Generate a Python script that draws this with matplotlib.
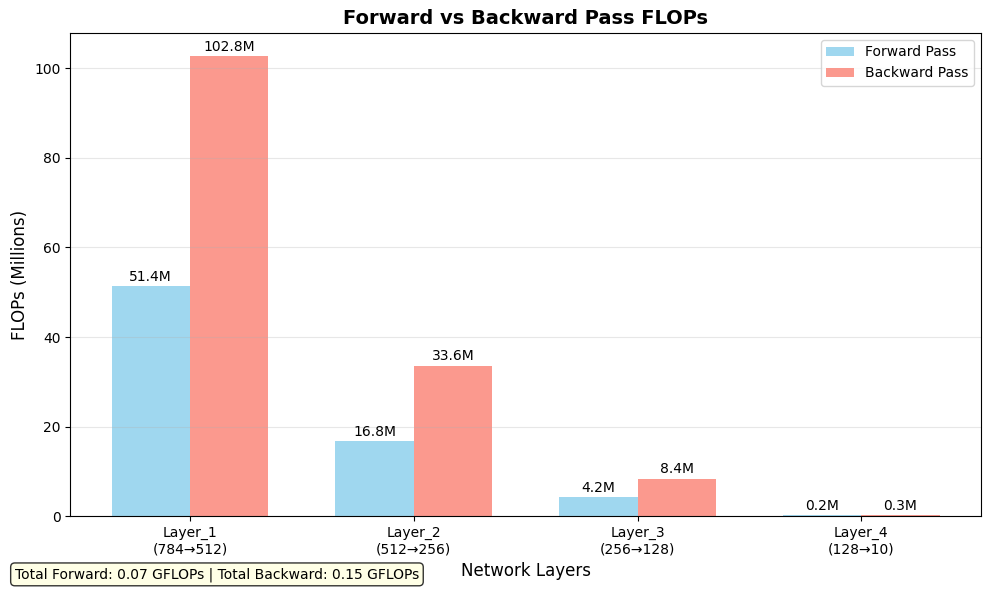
import matplotlib
matplotlib.use("Agg")
import matplotlib.pyplot as plt
import numpy as np

layers = ["Layer_1\n(784→512)", "Layer_2\n(512→256)", "Layer_3\n(256→128)", "Layer_4\n(128→10)"]
forward = [51.4, 16.8, 4.2, 0.2]
backward = [102.8, 33.6, 8.4, 0.3]

fig, ax = plt.subplots(figsize=(9.89, 5.96), dpi=100)
x = np.arange(len(layers))
w = 0.35
b1 = ax.bar(x - w/2, forward, w, label="Forward Pass", color="skyblue", alpha=0.8)
b2 = ax.bar(x + w/2, backward, w, label="Backward Pass", color="salmon", alpha=0.8)
for bars in (b1, b2):
    for r in bars:
        h = r.get_height()
        ax.text(r.get_x() + r.get_width()/2, h + 0.5, f"{h:.1f}M", ha="center", va="bottom", fontsize=10)
ax.set_xticks(x)
ax.set_xticklabels(layers)
ax.set_xlabel("Network Layers", fontsize=12)
ax.set_ylabel("FLOPs (Millions)", fontsize=12)
ax.set_title("Forward vs Backward Pass FLOPs", fontsize=14, fontweight="bold")
ax.legend(loc="upper right")
ax.grid(axis="y", alpha=0.3)
fig.text(0.015, 0.03, f"Total Forward: {sum(forward)/1000:.2f} GFLOPs | Total Backward: {sum(backward)/1000:.2f} GFLOPs",
         fontsize=10, bbox=dict(boxstyle="round", facecolor="lightyellow", alpha=0.8))
fig.subplots_adjust(left=0.071, right=0.992, top=0.945, bottom=0.134)
fig.savefig("out.png", dpi=100)
